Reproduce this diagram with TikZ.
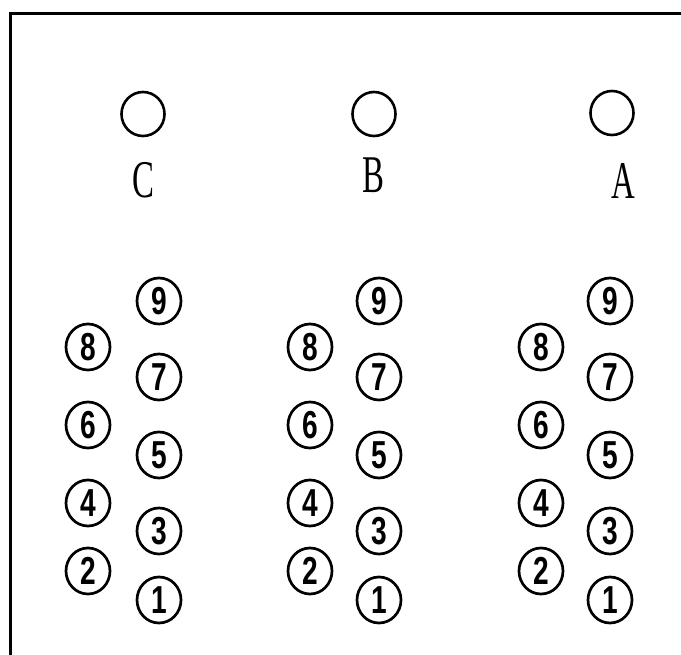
\documentclass[tikz,border=0pt]{standalone}
\usepackage{fontspec}
\usetikzlibrary{shapes.geometric}
\newfontfamily\digitfont{Liberation Sans}
\newfontfamily\letterfont{Liberation Serif}
\newcommand{\dg}[1]{\scalebox{0.72}[1]{#1}}
\newcommand{\lt}[1]{\scalebox{0.62}[1]{#1}}
\begin{document}
\begin{tikzpicture}[x=1pt,y=-1pt,
  frame/.style={line width=3pt, black},
  num/.style={draw, ellipse, line width=2.7pt, minimum width=44pt, minimum height=46pt, inner sep=0pt,
    font=\digitfont\bfseries\fontsize{39}{39}\selectfont},
  hole/.style={draw, ellipse, line width=2.6pt, minimum width=43pt, minimum height=44pt, inner sep=0pt},
  lab/.style={inner sep=0pt, font=\letterfont\fontsize{53}{53}\selectfont}]
\useasboundingbox (0,0) rectangle (681,655);
\coordinate (tl) at (10,14);
\coordinate (tr) at (681,14);
\coordinate (bl) at (10,655);
\draw[frame] (tr) -- (tl) -- (bl);
% top holes and labels
\node[hole] (hc) at (143,114) {};
\node[hole] (hb) at (374,114) {};
\node[hole] (ha) at (612,113) {};
\node[lab] (lc) at (143,180) {\lt{C}};
\node[lab] (lb) at (373,175) {\lt{B}};
\node[lab] (la) at (623,181) {\lt{A}};
% numbered circles
\foreach \col/\xl/\xr in {c/88/159, b/310/379, a/541/610}{
  \node[num] (\col9) at (\xr,301) {\dg{9}};
  \node[num] (\col8) at (\xl,347) {\dg{8}};
  \node[num] (\col7) at (\xr,377) {\dg{7}};
  \node[num] (\col6) at (\xl,425) {\dg{6}};
  \node[num] (\col5) at (\xr,455) {\dg{5}};
  \node[num] (\col4) at (\xl,503) {\dg{4}};
  \node[num] (\col3) at (\xr,531) {\dg{3}};
  \node[num] (\col2) at (\xl,571) {\dg{2}};
  \node[num] (\col1) at (\xr,600) {\dg{1}};
}
\end{tikzpicture}
\end{document}
